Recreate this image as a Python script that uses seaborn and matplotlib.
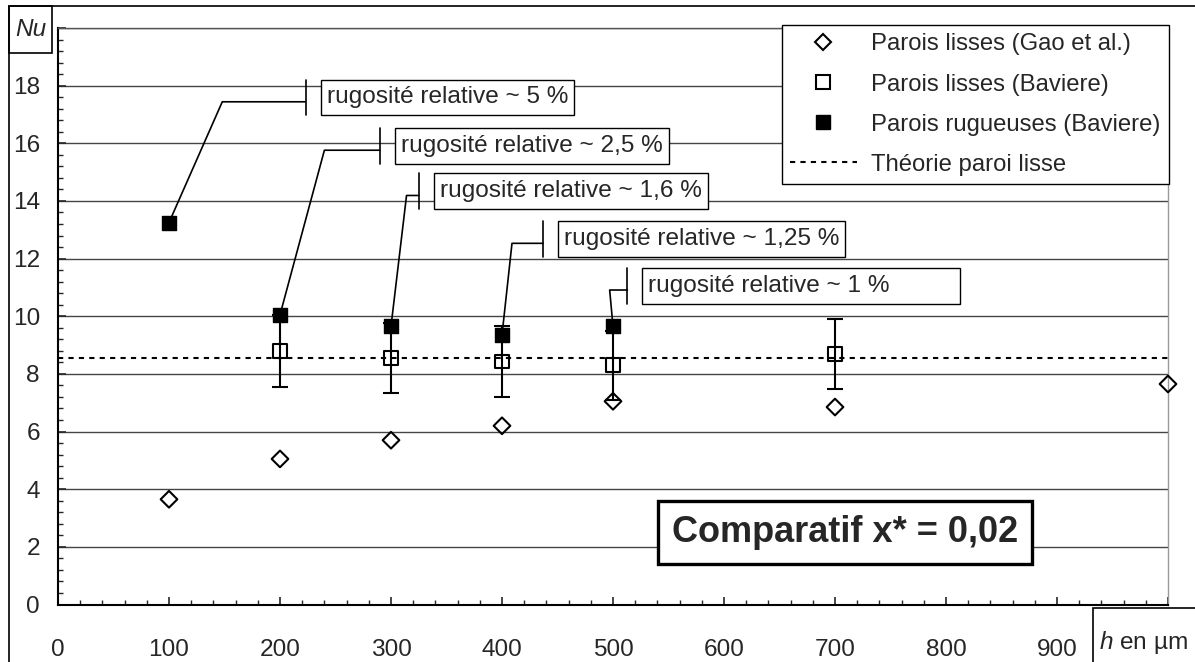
import numpy as np
import matplotlib
matplotlib.use("Agg")
import matplotlib.pyplot as plt
from matplotlib.lines import Line2D
from matplotlib.patches import Rectangle
from matplotlib.ticker import MultipleLocator
import seaborn as sns

# data
gao_x = [100, 200, 300, 400, 500, 700, 1000]
gao_y = [3.65, 5.05, 5.7, 6.2, 7.05, 6.85, 7.65]

smooth_x = [200, 300, 400, 500, 700]
smooth_y = [8.8, 8.55, 8.43, 8.3, 8.68]
smooth_err = [1.25, 1.22, 1.23, 1.2, 1.21]

rough_x = [100, 200, 300, 400, 500]
rough_y = [13.25, 10.05, 9.65, 9.35, 9.65]
rough_labels = ["rugosité relative ~ 5 %", "rugosité relative ~ 2,5 %",
                "rugosité relative ~ 1,6 %", "rugosité relative ~ 1,25 %",
                "rugosité relative ~ 1 %"]

theory_nu = 8.55

legend_labels = ["Parois lisses (Gao et al.)", "Parois lisses (Baviere)",
                 "Parois rugueuses (Baviere)", "Théorie paroi lisse"]

# callout layout (elbow point, short bar before each box, min box width in px)
elbow_x = [148, 240, 314, 409, 497]
elbow_y = [17.44, 15.76, 14.19, 12.53, 10.91]
bar_x = [223, 290, 325, 437, 513]
box_min_w = [0, 0, 0, 0, 318]

sns.set_style("white")
plt.rcParams['font.family'] = ['Liberation Sans', 'DejaVu Sans']
plt.rcParams['mathtext.fontset'] = 'custom'
plt.rcParams['mathtext.it'] = 'Liberation Sans:italic'
plt.rcParams['mathtext.rm'] = 'Liberation Sans'
FS = 17.6

W, H = 1195, 662
fig = plt.figure(figsize=(W / 100, H / 100), dpi=100)
ax = fig.add_axes([58 / W, 1 - 604.5 / H, (1168 - 58) / W, (604.5 - 28) / H])

ax.set_xlim(0, 1000)
ax.set_ylim(0, 20)
px = 1000 / (1168 - 58)  # data units per pixel along x

ax.yaxis.grid(True, which='major', color='#454545', lw=1.0, zorder=0)
ax.set_axisbelow(True)

renderer = fig.canvas.get_renderer()

# leader lines to the roughness callouts
for rx, ry, ex, ey, bx, lab, mw in zip(rough_x, rough_y, elbow_x, elbow_y,
                                        bar_x, rough_labels, box_min_w):
    ax.plot([rx, ex, bx], [ry, ey, ey], color='black', lw=1.2, zorder=2)
    ty = ey + 0.15
    ax.plot([bx, bx], [ty - 0.62, ty + 0.62], color='black', lw=1.2, zorder=2)
    left = bx + 15 * px
    t = ax.text(left + 6 * px, ty, lab, ha='left', va='center', fontsize=FS, zorder=5)
    wpx = max(t.get_window_extent(renderer).width + 12, mw)
    ax.add_patch(Rectangle((left, ty - 0.62), wpx * px, 1.24, fc='white',
                           ec='black', lw=1.0, zorder=4.5))

ax.axhline(theory_nu, color='black', lw=1.5, ls=(0, (2.5, 2.5)), zorder=3)

ax.errorbar(smooth_x, smooth_y, yerr=smooth_err, fmt='none', ecolor='black',
            elinewidth=1.5, capsize=5.5, capthick=1.5, zorder=4)

sns.scatterplot(x=gao_x, y=gao_y, marker='D', s=72, facecolor='none',
                edgecolor='black', linewidth=1.5, ax=ax, zorder=6, clip_on=False)
sns.scatterplot(x=smooth_x, y=smooth_y, marker='s', s=100, facecolor='none',
                edgecolor='black', linewidth=1.5, ax=ax, zorder=6)
sns.scatterplot(x=rough_x, y=rough_y, marker='s', s=115, color='black',
                edgecolor='black', linewidth=1.0, ax=ax, zorder=7)

# ticks
ax.xaxis.set_major_locator(MultipleLocator(100))
ax.xaxis.set_minor_locator(MultipleLocator(20))
ax.yaxis.set_major_locator(MultipleLocator(2))
ax.yaxis.set_minor_locator(MultipleLocator(0.4))
xt = np.arange(0, 1001, 100)
ax.set_xticks(xt)
ax.set_xticklabels([str(v) if v < 1000 else "" for v in xt])
yt = np.arange(0, 21, 2)
ax.set_yticks(yt)
ax.set_yticklabels([str(v) if v < 20 else "" for v in yt])
ax.tick_params(axis='x', which='major', direction='in', length=6, width=1.2,
               pad=25, labelsize=FS, bottom=True, top=False)
ax.tick_params(axis='x', which='minor', direction='in', length=3.5, width=1.0,
               bottom=True, top=False)
ax.tick_params(axis='y', which='major', direction='in', length=6, width=1.2,
               pad=13, labelsize=FS, left=True, right=False)
ax.tick_params(axis='y', which='minor', direction='in', length=3.5, width=1.0,
               left=True, right=False)

for s in ['left', 'bottom']:
    ax.spines[s].set_color('black')
    ax.spines[s].set_linewidth(1.5)
ax.spines['top'].set_color('#555555')
ax.spines['top'].set_linewidth(1.0)
ax.spines['right'].set_color('#999999')
ax.spines['right'].set_linewidth(1.0)

ax.text(709, 2.5, "Comparatif x* = 0,02", ha='center', va='center',
        fontsize=26, fontweight='bold', zorder=8,
        bbox=dict(boxstyle='square,pad=0.38', fc='white', ec='black', lw=2.4))

# legend
handles = [
    Line2D([], [], marker='D', ls='none', mfc='none', mec='black', ms=8, mew=1.5),
    Line2D([], [], marker='s', ls='none', mfc='none', mec='black', ms=9.5, mew=1.5),
    Line2D([], [], marker='s', ls='none', mfc='black', mec='black', ms=10.5),
    Line2D([], [], color='black', lw=1.5, ls=(0, (2.5, 2.5))),
]
leg = fig.legend(handles, legend_labels, loc='upper right',
                 bbox_to_anchor=(1169 / W, 1 - 25 / H), fontsize=17.2,
                 frameon=True, fancybox=False, framealpha=1, edgecolor='black',
                 handlelength=2.8, handletextpad=0.6, labelspacing=0.76,
                 borderpad=0.35, borderaxespad=0)
leg.get_frame().set_linewidth(1.0)

# outer chart frame and the two axis-title boxes
fig.add_artist(Rectangle((9 / W, -0.05), 1.2, 1 - 6 / H + 0.05, transform=fig.transFigure,
                         fill=False, ec='black', lw=1.2))
fig.add_artist(Rectangle((9 / W, 1 - 53 / H), 43 / W, 47 / H, transform=fig.transFigure,
                         fill=False, ec='black', lw=1.2))
fig.text(30.5 / W, 1 - 30 / H, "Nu", ha='center', va='center', fontsize=FS,
         fontstyle='italic')
fig.add_artist(Rectangle((1093 / W, -0.05), 0.2, 0.05 + 1 - 608 / H, transform=fig.transFigure,
                         fill=False, ec='black', lw=1.2))
fig.text(1099 / W, 1 - 643 / H, "$\\mathit{h}$ en µm", ha='left', va='center', fontsize=FS)

fig.savefig("out.png", dpi=100, facecolor='white')
